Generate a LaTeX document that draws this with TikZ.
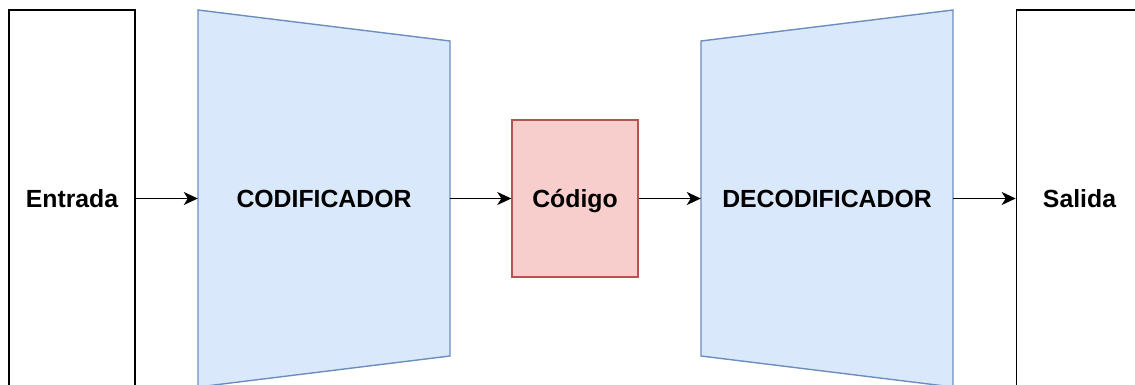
\documentclass[tikz,border=0pt]{standalone}
\usepackage{fontspec}
\setmainfont{Liberation Sans}
\usetikzlibrary{arrows.meta}
\definecolor{blueF}{HTML}{DAE8FC}
\definecolor{blueS}{HTML}{6C8EBF}
\definecolor{redF}{HTML}{F8CECC}
\definecolor{redS}{HTML}{B85450}
\tikzset{
  lbl/.style={font=\fontsize{24.8}{30}\selectfont\bfseries, text height=18pt, text depth=0pt, inner sep=0pt},
  whitebox/.style={lbl, draw=black, fill=white, line width=1.6pt, minimum width=126pt, minimum height=377pt},
  codebox/.style={lbl, draw=redS, fill=redF, line width=1.4pt, minimum width=126pt, minimum height=157pt},
  ghost/.style={lbl, minimum width=252pt, minimum height=377pt},
  trap/.style={draw=blueS, fill=blueF, line width=1.4pt, line join=miter},
  conn/.style={line width=1.6pt, -{Stealth[length=14pt, width=13pt, inset=4pt]}}
}
\begin{document}
\begin{tikzpicture}[x=1pt, y=-1pt]
\useasboundingbox (0,0) rectangle (1135,385);
\clip (0,0) rectangle (1135,385);
% encoder and decoder shapes
\draw[trap] (198,10) -- (450,41) -- (450,356) -- (198,387) -- cycle;
\draw[trap] (701,41) -- (953,10) -- (953,387) -- (701,356) -- cycle;
% nodes
\node[whitebox] (ent) at (72,198.5) {Entrada};
\node[ghost] (enc) at (324,198.5) {CODIFICADOR};
\node[codebox] (cod) at (575,198.5) {Código};
\node[ghost] (dec) at (827,198.5) {DECODIFICADOR};
\node[whitebox] (sal) at (1079.5,198.5) {Salida};
% connectors
\draw[conn] (ent.east) -- (enc.west);
\draw[conn] (enc.east) -- (cod.west);
\draw[conn] (cod.east) -- (dec.west);
\draw[conn] (dec.east) -- (sal.west);
\end{tikzpicture}
\end{document}
